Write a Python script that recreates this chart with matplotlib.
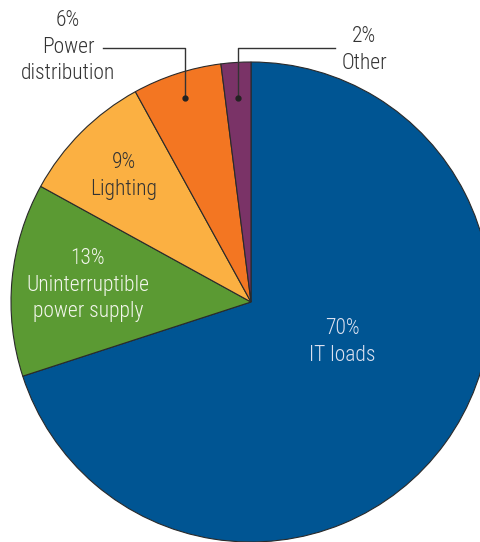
import numpy as np
import matplotlib
matplotlib.use("Agg")
import matplotlib.pyplot as plt
from matplotlib import font_manager

categories = ["IT loads", "Uninterruptible\npower supply", "Lighting", "Power\ndistribution", "Other"]
values = [70, 13, 9, 6, 2]
colors = ["#005593", "#5B9A33", "#FBB042", "#F37622", "#7A3367"]

names = {f.name for f in font_manager.fontManager.ttflist}
fam = next((f for f in ["Roboto Condensed", "Barlow Condensed", "Archivo Narrow",
                        "Asap Condensed", "Liberation Sans Narrow"] if f in names), "DejaVu Sans")
plt.rcParams['font.family'] = [fam, 'DejaVu Sans']

W, H = 481, 542
fig = plt.figure(figsize=(W / 100, H / 100), dpi=100)
ax = fig.add_axes([0, 0, 1, 1])

cx, cy, R = 251, H - 302, 240
wedges, _ = ax.pie(values, colors=colors, startangle=90, counterclock=False,
                   center=(cx, cy), radius=R, frame=True,
                   wedgeprops=dict(edgecolor="#2a2a2a", linewidth=0.8))
ax.set_xlim(0, W)
ax.set_ylim(0, H)
ax.set_aspect('equal')
ax.axis('off')

fs = 15.5
def lab(x, y, s, c):
    ax.text(x, H - y, s, ha='center', va='center', fontsize=fs, color=c,
            linespacing=1.36, fontweight=300)

lab(342, 342, "70%\nIT loads", "#DCE1F0")
lab(88, 285, "13%\nUninterruptible\npower supply", "#F4F7EE")
lab(124, 176, "9%\nLighting", "#333333")
lab(68, 47, "6%\nPower\ndistribution", "#333333")
lab(364, 50, "2%\nOther", "#333333")

# leader lines for small slices
total = sum(values)
cum = np.cumsum([0] + values)
for i, (lx, rfrac) in [(3, (103, 0.895)), (4, (335, 0.85))]:
    mid = 90 - 360 * (cum[i] + values[i] / 2) / total
    dx = cx + R * rfrac * np.cos(np.radians(mid))
    dy = cy + R * rfrac * np.sin(np.radians(mid))
    ytop = H - 48
    ax.plot([dx, dx, lx], [dy, ytop, ytop], color="#333333", lw=1.0)
    ax.plot(dx, dy, 'o', color="#222222", ms=3.5)

fig.savefig("out.png", dpi=100)
